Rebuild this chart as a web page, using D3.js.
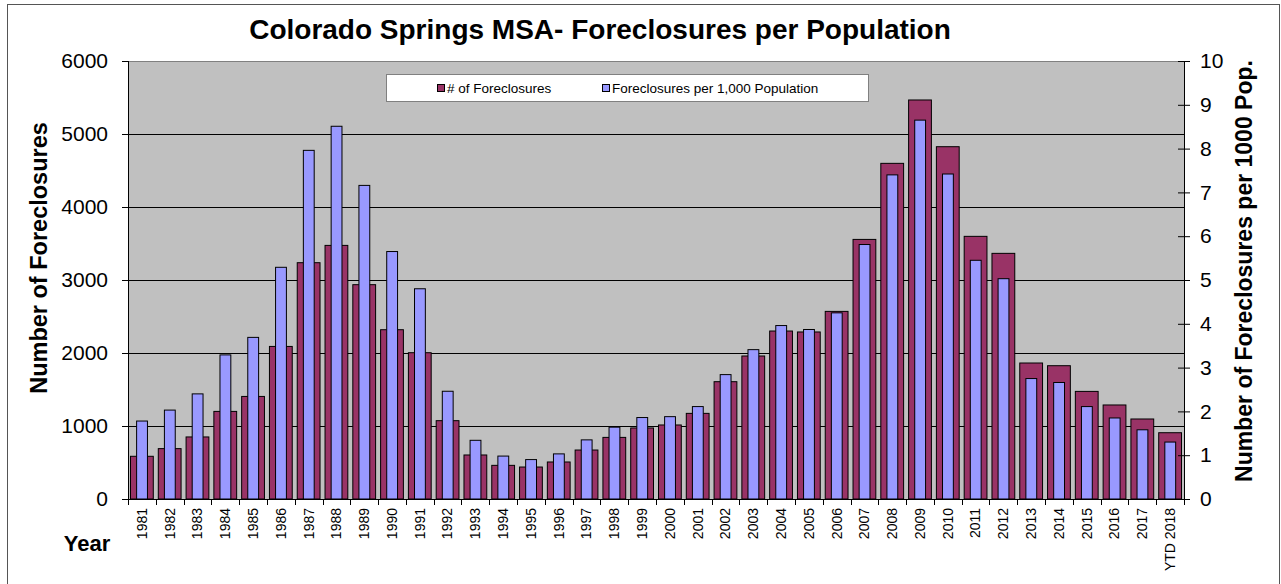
<!DOCTYPE html>
<html>
<head>
<meta charset="utf-8">
<script src="https://cdn.jsdelivr.net/npm/d3@7"></script>
<style>
  body { margin: 0; background: #fff; }
  svg { display: block; font-family: 'Liberation Sans', Arial, sans-serif; }
</style>
</head>
<body>
<svg class="chartSVG" width="1281" height="584"></svg>
<script>
// chart data
const years = ['1981','1982','1983','1984','1985','1986','1987','1988','1989','1990',
  '1991','1992','1993','1994','1995','1996','1997','1998','1999','2000',
  '2001','2002','2003','2004','2005','2006','2007','2008','2009','2010',
  '2011','2012','2013','2014','2015','2016','2017','YTD 2018'];

const foreclosures = [585, 690, 850, 1200, 1405, 2090, 3237, 3474, 2936, 2319,
  2004, 1073, 603, 461, 438, 507, 671, 844, 973, 1014,
  1173, 1607, 1959, 2301, 2288, 2570, 3556, 4598, 5466, 4826,
  3598, 3365, 1863, 1826, 1474, 1288, 1096, 908];

const perThousand = [1.78, 2.03, 2.40, 3.29, 3.69, 5.29, 7.96, 8.51, 7.16, 5.65,
  4.80, 2.46, 1.34, 0.98, 0.90, 1.03, 1.35, 1.64, 1.86, 1.88,
  2.11, 2.84, 3.41, 3.96, 3.87, 4.25, 5.81, 7.40, 8.65, 7.42,
  5.45, 5.03, 2.75, 2.66, 2.11, 1.85, 1.58, 1.30];

const leftTicks = [0, 1000, 2000, 3000, 4000, 5000, 6000];
const rightTicks = [0, 1, 2, 3, 4, 5, 6, 7, 8, 9, 10];

const seriesNames = ['# of Foreclosures', 'Foreclosures per 1,000 Population'];

// no d3-selection-multi here, so a tiny stand-in
d3.selection.prototype.attrs = function(obj){
  for (const k in obj) this.attr(k, obj[k]);
  return this;
};
d3.selection.prototype.styles = function(obj){
  for (const k in obj) this.style(k, obj[k]);
  return this;
};

function drawChart(){
  const svg = d3.select('svg.chartSVG');
  const plot = {left: 128, right: 1184, top: 61, bottom: 499};

  const x = d3.scaleBand()
    .domain(years)
    .range([plot.left, plot.right]);

  const yLeft = d3.scaleLinear().domain([0, 6000]).range([plot.bottom, plot.top]);
  const yRight = d3.scaleLinear().domain([0, 10]).range([plot.bottom, plot.top]);

  // outer chart frame
  svg.append('rect')
    .attrs({x: 7.5, y: 4.5, width: 1272, height: 620})
    .styles({fill: 'none', stroke: '#555', 'stroke-width': 1});

  // plot area
  svg.append('rect')
    .attrs({x: plot.left, y: plot.top, width: plot.right - plot.left, height: plot.bottom - plot.top})
    .styles({fill: '#c0c0c0', stroke: 'none'});

  svg.append('line')
    .attrs({x1: plot.left, x2: plot.right, y1: plot.top + 0.5, y2: plot.top + 0.5})
    .styles({stroke: '#808080', 'stroke-width': 1});

  // gridlines off the left axis
  svg.append('g')
    .selectAll('line')
    .data(leftTicks.filter(d => d > 0 && d < 6000))
    .enter()
    .append('line')
    .attrs({
      x1: plot.left, x2: plot.right,
      y1: d => Math.round(yLeft(d)) + 0.5,
      y2: d => Math.round(yLeft(d)) + 0.5
    })
    .styles({stroke: '#000', 'stroke-width': 1});

  const bw = x.bandwidth();

  // # of foreclosures (back)
  svg.append('g')
    .selectAll('rect')
    .data(foreclosures)
    .enter()
    .append('rect')
    .attrs({
      x: (d, i) => x(years[i]) + bw * 0.09,
      y: d => yLeft(d),
      width: bw * 0.82,
      height: d => plot.bottom - yLeft(d)
    })
    .styles({fill: '#993366', stroke: '#000', 'stroke-width': 1});

  // per 1,000 population (front)
  svg.append('g')
    .selectAll('rect')
    .data(perThousand)
    .enter()
    .append('rect')
    .attrs({
      x: (d, i) => x(years[i]) + bw * 0.31,
      y: d => yRight(d),
      width: bw * 0.39,
      height: d => plot.bottom - yRight(d)
    })
    .styles({fill: '#9999ff', stroke: '#000', 'stroke-width': 1});

  // left axis
  const leftAxis = svg.append('g')
    .attr('transform', `translate(${plot.left},0)`)
    .call(d3.axisLeft(yLeft).tickValues(leftTicks).tickSize(6).tickPadding(14).tickFormat(d3.format('d')));

  leftAxis.select('.domain').attr('d', `M0.5,${plot.top}V${plot.bottom}`);

  // right axis, ticks cross the line
  const rightAxis = svg.append('g')
    .attr('transform', `translate(${plot.right},0)`)
    .call(d3.axisRight(yRight).tickValues(rightTicks).tickSize(6).tickPadding(10));

  rightAxis.select('.domain').attr('d', `M0.5,${plot.top}V${plot.bottom}`);
  rightAxis.selectAll('.tick line').attr('x1', -6);

  // bottom axis, ticks on category boundaries
  const bottomAxis = svg.append('g')
    .attr('transform', `translate(0,${plot.bottom})`)
    .call(d3.axisBottom(x).tickSize(0).tickPadding(0));

  bottomAxis.select('.domain').attr('d', `M${plot.left},0.5H${plot.right}`);

  bottomAxis.selectAll('.tick text')
    .attrs({transform: 'rotate(-90)', x: -9, y: 0, dy: '0.35em'})
    .styles({'text-anchor': 'end'});

  svg.append('g')
    .selectAll('line')
    .data(years.concat(['end']))
    .enter()
    .append('line')
    .attrs({
      x1: (d, i) => Math.round(plot.left + i * bw) + 0.5,
      x2: (d, i) => Math.round(plot.left + i * bw) + 0.5,
      y1: plot.bottom,
      y2: plot.bottom + 6
    })
    .styles({stroke: '#000', 'stroke-width': 1});

  svg.selectAll('.tick line, .domain').styles({stroke: '#000', 'stroke-width': 1});
  leftAxis.selectAll('text').styles({'font-size': '21px', 'font-family': "'Liberation Sans', Arial, sans-serif", fill: '#000'});
  rightAxis.selectAll('text').styles({'font-size': '21px', 'font-family': "'Liberation Sans', Arial, sans-serif", fill: '#000'});
  bottomAxis.selectAll('text').styles({'font-size': '14px', 'font-family': "'Liberation Sans', Arial, sans-serif", fill: '#000'});

  // titles
  svg.append('text')
    .text('Colorado Springs MSA- Foreclosures per Population')
    .attrs({x: 600, y: 39})
    .styles({'text-anchor': 'middle', 'font-size': '28px', 'font-weight': 'bold', fill: '#000'});

  svg.append('text')
    .text('Number of Foreclosures')
    .attrs({transform: 'translate(47,258) rotate(-90)'})
    .styles({'text-anchor': 'middle', 'font-size': '23.5px', 'font-weight': 'bold', fill: '#000'});

  svg.append('text')
    .text('Number of Foreclosures per 1000 Pop.')
    .attrs({transform: 'translate(1252,271) rotate(-90)'})
    .styles({'text-anchor': 'middle', 'font-size': '23px', 'font-weight': 'bold', fill: '#000'});

  svg.append('text')
    .text('Year')
    .attrs({x: 87, y: 551})
    .styles({'text-anchor': 'middle', 'font-size': '22px', 'font-weight': 'bold', fill: '#000'});

  // legend
  const legend = svg.append('g').attr('class', 'legend');
  legend.append('rect')
    .attrs({x: 386.5, y: 74.5, width: 482, height: 27})
    .styles({fill: '#fff', stroke: '#808080', 'stroke-width': 1});

  const legendItems = [
    {name: seriesNames[0], color: '#993366', x: 437},
    {name: seriesNames[1], color: '#9999ff', x: 602}
  ];

  const item = legend.selectAll('g.item')
    .data(legendItems)
    .enter()
    .append('g')
    .attr('class', 'item')
    .attr('transform', d => `translate(${d.x},0)`);

  item.append('rect')
    .attrs({x: 0.5, y: 84.5, width: 7, height: 7})
    .styles({fill: d => d.color, stroke: '#000', 'stroke-width': 1});

  item.append('text')
    .text(d => d.name)
    .attrs({x: 10, y: 92.5})
    .styles({'font-size': '13.5px', fill: '#000'});
}

drawChart();
</script>
</body>
</html>
